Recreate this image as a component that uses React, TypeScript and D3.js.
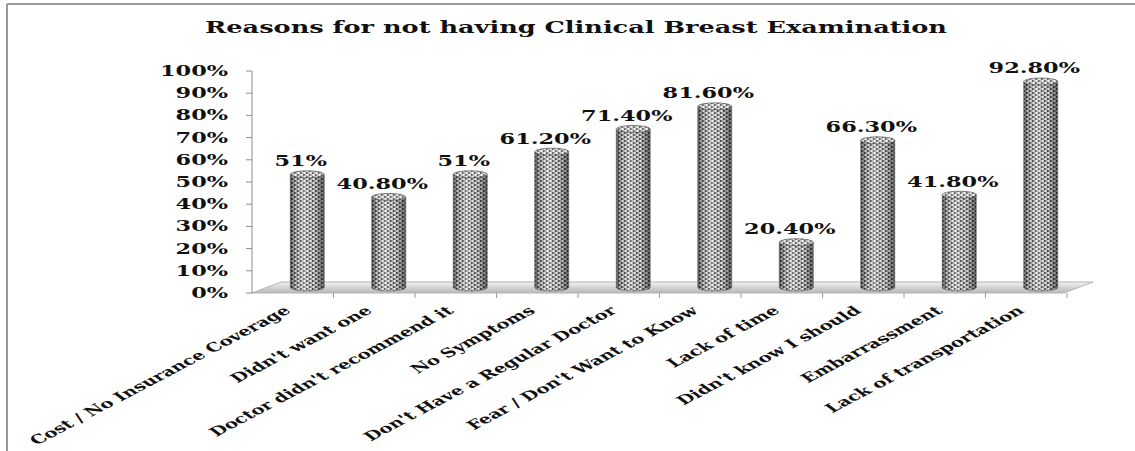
import React from "react";
import * as d3 from "d3";

const categories = [
  "Cost / No Insurance Coverage",
  "Didn't want one",
  "Doctor didn't recommend it",
  "No Symptoms",
  "Don't Have a Regular Doctor",
  "Fear / Don't Want to Know",
  "Lack of time",
  "Didn't know I should",
  "Embarrassment",
  "Lack of transportation",
];
const values = [51, 40.8, 51, 61.2, 71.4, 81.6, 20.4, 66.3, 41.8, 92.8];
const valueLabels = ["51%", "40.80%", "51%", "61.20%", "71.40%", "81.60%", "20.40%", "66.30%", "41.80%", "92.80%"];
const yTicks = [0, 10, 20, 30, 40, 50, 60, 70, 80, 90, 100];
const title = "Reasons for not having Clinical Breast Examination";

const W = 1135;
const H = 451;
const S = 1.6; // horizontal text stretch
const FONT = "'DejaVu Serif', serif";
const DX = 29;
const DY = -11;
const R = 17;
const RY = 3.5;

export default function App() {
  const x = d3.scaleBand<string>().domain(categories).range([252, 1067]).paddingInner(0).paddingOuter(0);
  const y = d3.scaleLinear().domain([0, 100]).range([293, 71]);
  const y0 = y(0);
  const [xl, xr] = x.range();

  const floor = [
    [xl, y0],
    [xr - 3, y0],
    [xr - 3 + DX, y0 + DY],
    [xl + DX, y0 + DY],
  ];

  const txt = (key: string, tx: number, ty: number, s: string, size: number, anchor: string, rot = 0) => (
    <text
      key={key}
      transform={`translate(${tx},${ty}) scale(${S},1)${rot ? ` rotate(${rot})` : ""}`}
      textAnchor={anchor}
      fontFamily={FONT}
      fontWeight="bold"
      fontSize={size}
      fill="#111"
    >
      {s}
    </text>
  );

  return (
    <svg width={W} height={H} style={{ position: "absolute", left: 0, top: 0, background: "#fff" }}>
      <defs>
        <pattern id="weave" width="6" height="4" patternUnits="userSpaceOnUse">
          <rect width="6" height="4" fill="#c4c4c4" />
          <path d="M0,0 L3,1 L0,2Z" fill="#333" />
          <path d="M3,2 L6,3 L3,4Z" fill="#333" />
          <circle cx="4.5" cy="0.9" r="0.8" fill="#fff" />
          <circle cx="1.5" cy="2.9" r="0.8" fill="#fff" />
        </pattern>
        <linearGradient id="cyl" x1="0" x2="1" y1="0" y2="0">
          <stop offset="0" stopColor="#000" stopOpacity="0.55" />
          <stop offset="0.15" stopColor="#000" stopOpacity="0.15" />
          <stop offset="0.4" stopColor="#fff" stopOpacity="0.2" />
          <stop offset="0.7" stopColor="#000" stopOpacity="0.05" />
          <stop offset="1" stopColor="#000" stopOpacity="0.55" />
        </linearGradient>
        <linearGradient id="floorG" x1="0" x2="0" y1="1" y2="0">
          <stop offset="0" stopColor="#b8b8b8" />
          <stop offset="0.5" stopColor="#d4d4d4" />
          <stop offset="1" stopColor="#f2f2f2" />
        </linearGradient>
      </defs>

      {/* outer border */}
      <line x1={7} x2={W} y1={4} y2={4} stroke="#9a9a9a" strokeWidth={2} />
      <line x1={7} x2={7} y1={4} y2={H} stroke="#9a9a9a" strokeWidth={2} />

      {txt("title", 576, 33, title, 16, "middle")}

      {/* floor */}
      <polygon points={floor.map((p) => p.join(",")).join(" ")} fill="url(#floorG)" stroke="#b4b4b4" strokeWidth={1} />

      {/* y axis */}
      <line x1={252} x2={252} y1={y(100)} y2={y0} stroke="#8c8c8c" strokeWidth={1} />
      {yTicks.map((t) => (
        <g key={"yt" + t}>
          <line x1={246} x2={252} y1={y(t)} y2={y(t)} stroke="#8c8c8c" strokeWidth={1} />
          {txt("ytl" + t, 228, y(t) + 5, `${t}%`, 14, "end")}
        </g>
      ))}

      {/* category ticks */}
      {categories.map((c, i) => (
        <line key={"ct" + i} x1={(x(c) as number) + x.bandwidth()} x2={(x(c) as number) + x.bandwidth()} y1={y0} y2={y0 + 5} stroke="#9a9a9a" strokeWidth={1} />
      ))}

      {/* bars */}
      {categories.map((c, i) => {
        const cx = (x(c) as number) + x.bandwidth() / 2 + DX / 2;
        const base = y0 + DY / 2;
        const top = y(values[i]) + DY / 2;
        const body = `M${cx - R},${top} L${cx - R},${base} A${R},${RY} 0 0 0 ${cx + R},${base} L${cx + R},${top} Z`;
        return (
          <g key={"bar" + i}>
            <path d={body} fill="url(#weave)" />
            <path d={body} fill="url(#cyl)" stroke="#666" strokeWidth={0.6} />
            <ellipse cx={cx} cy={top} rx={R} ry={RY} fill="url(#weave)" />
            <ellipse cx={cx} cy={top} rx={R} ry={RY} fill="#fff" fillOpacity={0.15} stroke="#555" strokeWidth={0.7} />
          </g>
        );
      })}

      {/* value labels */}
      {categories.map((c, i) =>
        txt("vl" + i, (x(c) as number) + x.bandwidth() / 2 + 8, y(values[i]) + DY / 2 - 8, valueLabels[i], 14, "middle")
      )}

      {/* category labels */}
      {categories.map((c, i) =>
        txt("cl" + i, (x(c) as number) + x.bandwidth() / 2 - 1, 312, c, 12.5, "end", -40)
      )}
    </svg>
  );
}
